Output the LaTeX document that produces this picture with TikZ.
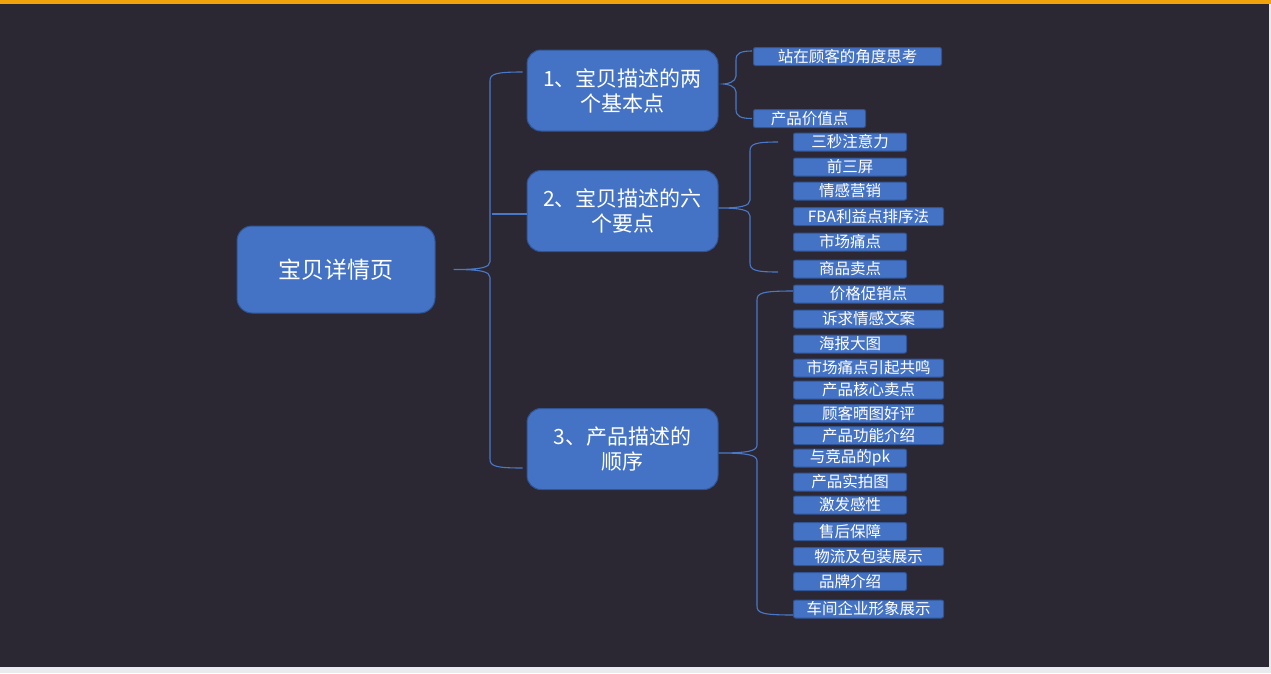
\documentclass[tikz,border=0pt]{standalone}
\usepackage{fontspec}
\setmainfont{Noto Sans CJK SC}
\usetikzlibrary{calc}

\definecolor{bgdark}{HTML}{2B2833}
\definecolor{bglight}{HTML}{E9EBEE}
\definecolor{barorange}{HTML}{F0A30A}
\definecolor{boxblue}{HTML}{4472C4}
\definecolor{boxline}{HTML}{2F5597}
\definecolor{linkblue}{HTML}{4A78C8}

\tikzset{
    rootbox/.style={rectangle, rounded corners=15pt, fill=boxblue, draw=boxline, line width=1pt,
        text=white, minimum width=198pt, minimum height=87pt, inner sep=0pt,
        font=\fontsize{23}{27}\selectfont},
    topicbox/.style={rectangle, rounded corners=14pt, fill=boxblue, draw=boxline, line width=1pt,
        text=white, minimum width=191pt, minimum height=81pt, inner sep=0pt, align=center,
        font=\fontsize{21}{25}\selectfont},
    leafbox/.style={rectangle, rounded corners=2pt, fill=boxblue, draw=boxline, line width=1pt,
        text=white, minimum height=18pt, inner sep=0pt, anchor=west,
        font=\fontsize{15.5}{18}\selectfont},
    narrow/.style={leafbox, minimum width=113pt},
    wide/.style={leafbox, minimum width=150pt},
    link/.style={draw=linkblue, line width=1.1pt},
}

% curly brace: #1 tip, #2 x of the upright, #3 upper end, #4 lower end
\newcommand{\mmbrace}[4]{%
    \draw[link] let \p1=(#1), \p2=(#3), \p3=(#4) in
        (\p2) .. controls ({#2pt+5pt},\y2) and ({#2pt},{\y2-2pt}) .. ({#2pt},{\y2-9pt})
        -- ({#2pt},{\y1+8pt})
        .. controls ({#2pt},{\y1+2pt}) and ({#2pt-9pt},\y1) .. (\p1)
        .. controls ({#2pt-9pt},\y1) and ({#2pt},{\y1-2pt}) .. ({#2pt},{\y1-8pt})
        -- ({#2pt},{\y3+9pt})
        .. controls ({#2pt},{\y3+2pt}) and ({#2pt+5pt},\y3) .. (\p3);
}

\begin{document}
\begin{tikzpicture}[x=1pt, y=-1pt]
    \useasboundingbox (0,0) rectangle (1271,673);
    \fill[bglight] (0,0) rectangle (1271,673);
    \fill[bgdark] (0,4) rectangle (1269,667);
    \fill[barorange] (0,0) rectangle (1271,4);

    % main topic and the three sub topics
    \node[rootbox] (page) at (336,269.5) {宝贝详情页};
    \node[topicbox] (basic) at (622.5,90.5) {1、宝贝描述的两\\个基本点};
    \node[topicbox] (key) at (622.5,211) {2、宝贝描述的六\\个要点};
    \node[topicbox] (seq) at (622.5,449) {3、产品描述的\\顺序};

    % leaves of 1
    \node[leafbox, minimum width=188pt] (b1) at (753,56.5) {站在顾客的角度思考};
    \node[leafbox, minimum width=112pt] (b2) at (753,118.5) {产品价值点};

    % leaves of 2
    \node[narrow] (k1) at (793,142) {三秒注意力};
    \node[narrow] (k2) at (793,167) {前三屏};
    \node[narrow] (k3) at (793,191) {情感营销};
    \node[wide] (k4) at (793,216.5) {FBA利益点排序法};
    \node[narrow] (k5) at (793,242) {市场痛点};
    \node[narrow] (k6) at (793,269) {商品卖点};

    % leaves of 3
    \node[wide] (s1) at (793,294) {价格促销点};
    \node[wide] (s2) at (793,319) {诉求情感文案};
    \node[narrow] (s3) at (793,344) {海报大图};
    \node[wide] (s4) at (793,368) {市场痛点引起共鸣};
    \node[wide] (s5) at (793,390) {产品核心卖点};
    \node[wide] (s6) at (793,413.5) {顾客晒图好评};
    \node[wide] (s7) at (793,435.5) {产品功能介绍};
    \node[narrow] (s8) at (793,458) {与竞品的pk};
    \node[narrow] (s9) at (793,482) {产品实拍图};
    \node[narrow] (s10) at (793,505) {激发感性};
    \node[narrow] (s11) at (793,531.5) {售后保障};
    \node[wide] (s12) at (793,556.5) {物流及包装展示};
    \node[narrow] (s13) at (793,581.5) {品牌介绍};
    \node[wide] (s14) at (793,609) {车间企业形象展示};

    % braces
    \coordinate (pagetip) at ([xshift=18pt]page.east);
    \mmbrace{pagetip}{490}{[xshift=-4pt,yshift=18.5pt]basic.west}{[xshift=-4pt,yshift=-19pt]seq.west}
    \draw[link] ([yshift=-3pt]key.west) -- ++(-35,0);

    \coordinate (basictip) at ([xshift=5pt,yshift=6.5pt]basic.east);
    \mmbrace{basictip}{736}{[xshift=-1pt,yshift=5.5pt]b1.west}{[xshift=-1pt]b2.west}

    \coordinate (keytip) at ([yshift=3pt]key.east);
    \mmbrace{keytip}{750}{[xshift=-15pt]k1.west}{[xshift=-15pt,yshift=-3pt]k6.west}

    \coordinate (seqtip) at ([yshift=-4pt]seq.east);
    \mmbrace{seqtip}{757}{[yshift=3pt]s1.west}{[yshift=-6pt]s14.west}
\end{tikzpicture}
\end{document}
